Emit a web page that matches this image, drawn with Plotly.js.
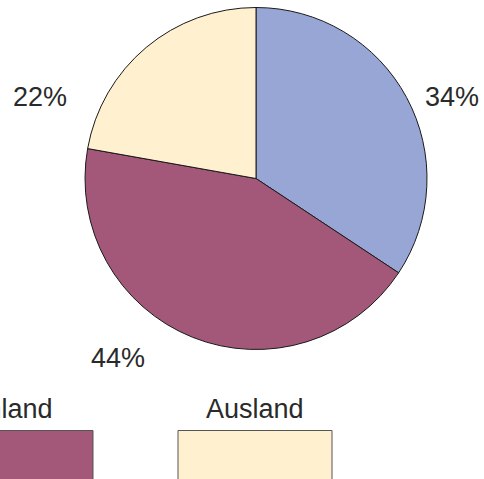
<!DOCTYPE html>
<html>
<head>
<meta charset="utf-8">
<script src="https://cdn.plot.ly/plotly-3.0.1.min.js"></script>
<style>html,body{margin:0;padding:0;background:#fff;}#chart{width:484px;height:479px;}</style>
</head>
<body>
<div id="chart"></div>
<script>
// Data
var categories = ['Region', 'Inland', 'Ausland'];
var shares = [34.3, 43.5, 22.2];
var colors = ['#98a6d6', '#a3587a', '#fff0d0'];

var W = 484, H = 479;
function px(x) { return x / W; }
function py(y) { return 1 - y / H; }

var total = shares.reduce(function (a, b) { return a + b; }, 0);
var pctText = shares.map(function (v) { return Math.round(v / total * 100) + '%'; });

// pie geometry (pixels)
var cx = 256, cy = 178.5, R = 171;

var trace = {
  type: 'pie',
  values: shares,
  labels: categories,
  sort: false,
  direction: 'clockwise',
  rotation: 0,
  textinfo: 'none',
  hoverinfo: 'label+percent',
  marker: { colors: colors, line: { color: '#1a1a1a', width: 1 } },
  domain: { x: [px(cx - R), px(cx + R)], y: [py(cy + R), py(cy - R)] },
  showlegend: false
};

var font = { family: 'Liberation Sans, Arial, Helvetica, sans-serif', size: 27, color: '#2a2a2a' };

// percentage label placement (pixels)
var labelPos = [[452, 97], [118, 358], [40, 97]];

var annotations = [];
pctText.forEach(function (t, i) {
  annotations.push({
    text: t, xref: 'paper', yref: 'paper',
    x: px(labelPos[i][0]), y: py(labelPos[i][1]),
    xanchor: 'center', yanchor: 'middle', showarrow: false, font: font
  });
});

// legend: large swatches with titles above
var shapes = [];
var legStep = 239, legLast = 255, swW = 154;
categories.forEach(function (c, i) {
  var lx = legLast - (categories.length - 1 - i) * legStep;
  annotations.push({
    text: c, xref: 'paper', yref: 'paper',
    x: px(lx), y: py(409), xanchor: 'center', yanchor: 'middle',
    showarrow: false, font: font
  });
  shapes.push({
    type: 'rect', xref: 'paper', yref: 'paper',
    x0: px(lx - swW / 2), x1: px(lx + swW / 2), y0: py(510), y1: py(430.5),
    fillcolor: colors[i], line: { color: '#555555', width: 1 }
  });
});

var layout = {
  width: W, height: H,
  margin: { l: 0, r: 0, t: 0, b: 0 },
  paper_bgcolor: '#ffffff',
  plot_bgcolor: '#ffffff',
  annotations: annotations,
  shapes: shapes,
  showlegend: false
};

Plotly.newPlot('chart', [trace], layout, { displayModeBar: false, staticPlot: true });
</script>
</body>
</html>
